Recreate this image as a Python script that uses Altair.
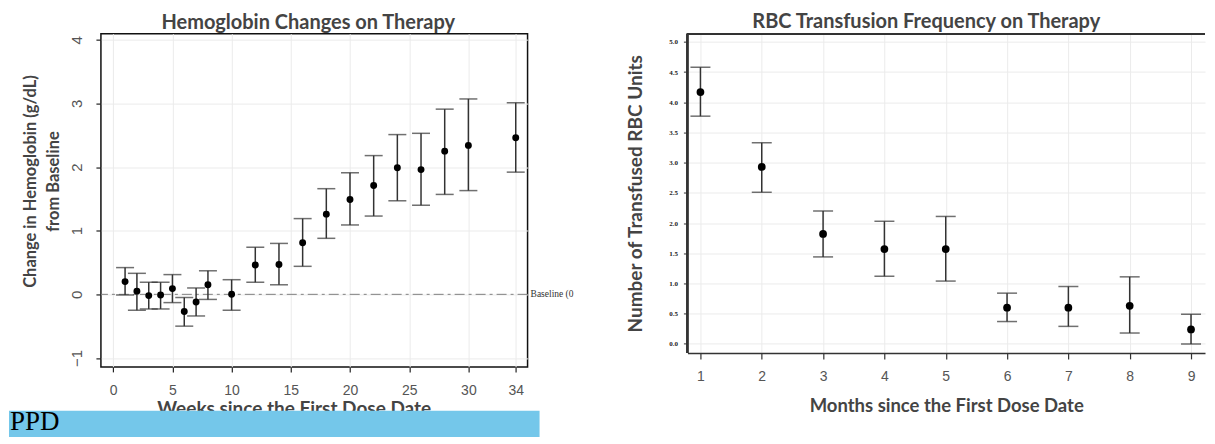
import altair as alt
import pandas as pd

# ---------------- data ----------------
weeks = [1, 2, 3, 4, 5, 6, 7, 8, 10, 12, 14, 16, 18, 20, 22, 24, 26, 28, 30, 34]
hgb_mean = [0.20, 0.05, -0.02, -0.01, 0.09, -0.27, -0.12, 0.15, 0.00, 0.46, 0.47, 0.81, 1.26, 1.49, 1.71, 1.99, 1.96, 2.25, 2.34, 2.46]
hgb_low = [-0.01, -0.25, -0.23, -0.23, -0.13, -0.50, -0.34, -0.08, -0.25, 0.19, 0.15, 0.44, 0.88, 1.09, 1.23, 1.47, 1.40, 1.57, 1.63, 1.92]
hgb_high = [0.42, 0.33, 0.19, 0.19, 0.31, -0.05, 0.10, 0.37, 0.23, 0.74, 0.80, 1.19, 1.66, 1.91, 2.18, 2.51, 2.53, 2.91, 3.07, 3.01]
week_ticks = [0, 5, 10, 15, 20, 25, 30, 34]
hgb_ticks = [-1, 0, 1, 2, 3, 4]

months = [1, 2, 3, 4, 5, 6, 7, 8, 9]
rbc_mean = [4.17, 2.93, 1.82, 1.57, 1.57, 0.60, 0.60, 0.63, 0.24]
rbc_low = [3.77, 2.51, 1.44, 1.12, 1.04, 0.37, 0.29, 0.18, 0.00]
rbc_high = [4.58, 3.33, 2.20, 2.03, 2.11, 0.84, 0.95, 1.11, 0.49]
month_ticks = [1, 2, 3, 4, 5, 6, 7, 8, 9]
rbc_ticks = [0.0, 0.5, 1.0, 1.5, 2.0, 2.5, 3.0, 3.5, 4.0, 4.5, 5.0]

baseline_value = [0]
baseline_label = ["Baseline (0"]
banner_label = ["PPD"]

left_df = pd.DataFrame({"week": weeks, "mean": hgb_mean, "low": hgb_low, "high": hgb_high})
right_df = pd.DataFrame({"month": months, "mean": rbc_mean, "low": rbc_low, "high": rbc_high})
base_df = pd.DataFrame({"v": baseline_value, "label": baseline_label})
banner_df = pd.DataFrame({"label": banner_label})

TITLE_FONT = "Lato"
TICK_FONT = "Liberation Sans"
GRID = "#ebebeb"
TXT = "#444444"
BAR = "#333333"

LW, LH = 427, 333.5
RW, RH = 518, 319.5

# ---------------- left panel ----------------
xs_l = alt.Scale(domain=[-1.04, 35.0], nice=False, zero=False)
ys_l = alt.Scale(domain=[-1.14, 4.096], nice=False, zero=False)
xax_l = alt.Axis(values=week_ticks, domain=False, grid=True, gridColor=GRID,
                 tickSize=5, tickColor="#222222", tickWidth=1.2,
                 labelFont=TICK_FONT, labelFontSize=14, labelColor="#555555", labelPadding=12,
                 title="Weeks since the First Dose Date", titleFont=TITLE_FONT, titleFontSize=19,
                 titleFontWeight="bold", titleColor=TXT, titleX=193, titleY=33, titleBaseline="top")
yax_l = alt.Axis(values=hgb_ticks, domain=False, grid=True, gridColor=GRID,
                 tickSize=5, tickColor="#222222", tickWidth=1.2,
                 labelFont=TICK_FONT, labelFontSize=15, labelColor="#555555", labelPadding=11.5,
                 labelAngle=270, labelAlign="center", labelBaseline="bottom",
                 title=["Change in Hemoglobin (g/dL)", "from Baseline"], titleFont=TITLE_FONT,
                 titleFontSize=16.5, titleFontWeight="bold", titleColor=TXT, titleLineHeight=23,
                 titleAngle=270, titleAlign="center", titleBaseline="bottom", titleX=-62.5, titleY=147.5)


def lx():
    return alt.X("week:Q", scale=xs_l, axis=xax_l)


def ly(field):
    return alt.Y(f"{field}:Q", scale=ys_l, axis=yax_l)


base_rule = alt.Chart(base_df).mark_rule(color="#808080", strokeWidth=1, strokeDash=[10, 4, 3, 4]).encode(
    y=ly("v"))
err_l = alt.Chart(left_df).mark_rule(color=BAR, strokeWidth=1.5).encode(x=lx(), y=ly("low"), y2="high:Q")
cap_lo_l = alt.Chart(left_df).mark_tick(orient="horizontal", size=18, thickness=1.5, color=BAR).encode(x=lx(), y=ly("low"))
cap_hi_l = alt.Chart(left_df).mark_tick(orient="horizontal", size=18, thickness=1.5, color=BAR).encode(x=lx(), y=ly("high"))
pts_l = alt.Chart(left_df).mark_circle(size=48, color="black", opacity=1).encode(x=lx(), y=ly("mean"))
base_txt = alt.Chart(base_df).mark_text(align="left", baseline="middle", font="Liberation Serif",
                                        fontSize=9.5, color="#333333").encode(
    x=alt.value(LW + 3), y=ly("v"), text="label:N")
banner = alt.Chart(banner_df).mark_rect(color="#74C7EA").encode(
    x=alt.value(-92), x2=alt.value(439), y=alt.value(377.5), y2=alt.value(406.5))
banner_txt = alt.Chart(banner_df).mark_text(align="left", baseline="alphabetic", font="Liberation Serif",
                                            fontSize=27, color="black").encode(
    x=alt.value(-91), y=alt.value(396.5), text="label:N")

left = alt.layer(base_rule, err_l, cap_lo_l, cap_hi_l, pts_l, base_txt, banner, banner_txt).properties(
    width=LW, height=LH,
    title=alt.TitleParams("Hemoglobin Changes on Therapy", font=TITLE_FONT, fontSize=20, fontWeight="bold",
                          color=TXT, offset=1, dx=-6),
    view=alt.ViewBackground(stroke="#111111", strokeWidth=1.5),
)

# ---------------- right panel ----------------
xs_r = alt.Scale(domain=[0.788, 9.228], nice=False, zero=False)
ys_r = alt.Scale(domain=[-0.149, 5.136], nice=False, zero=False)
xax_r = alt.Axis(values=month_ticks, domain=True, domainColor=BAR, domainWidth=1.5, grid=True, gridColor=GRID,
                 tickSize=6, tickColor=BAR, tickWidth=1.2,
                 labelFont=TICK_FONT, labelFontSize=14, labelColor="#555555", labelPadding=11,
                 title="Months since the First Dose Date", titleFont=TITLE_FONT, titleFontSize=18.5,
                 titleFontWeight="bold", titleColor=TXT, titlePadding=12.5)
yax_r = alt.Axis(values=rbc_ticks, format=".1f", domain=False, grid=True,
                 gridColor=GRID, tickSize=4, tickColor=BAR, tickWidth=1,
                 labelFont="Liberation Serif", labelFontSize=7, labelFontWeight="bold",
                 labelColor="#222222", labelPadding=6,
                 title="Number of Transfused RBC Units", titleFont=TITLE_FONT, titleFontSize=19,
                 titleFontWeight="bold", titleColor=TXT, titlePadding=23)


def rx():
    return alt.X("month:Q", scale=xs_r, axis=xax_r)


def ry(field):
    return alt.Y(f"{field}:Q", scale=ys_r, axis=yax_r)


top_line = alt.Chart(right_df).mark_rule(color=BAR, strokeWidth=1.5).encode(y=alt.value(0))
left_line = alt.Chart(right_df).mark_rule(color=BAR, strokeWidth=1.5).encode(
    x=alt.value(0), y=alt.value(0), y2=alt.value(RH))
err_r = alt.Chart(right_df).mark_rule(color=BAR, strokeWidth=1.5).encode(x=rx(), y=ry("low"), y2="high:Q")
cap_lo_r = alt.Chart(right_df).mark_tick(orient="horizontal", size=20, thickness=1.5, color=BAR).encode(x=rx(), y=ry("low"))
cap_hi_r = alt.Chart(right_df).mark_tick(orient="horizontal", size=20, thickness=1.5, color=BAR).encode(x=rx(), y=ry("high"))
pts_r = alt.Chart(right_df).mark_circle(size=60, color="black", opacity=1).encode(x=rx(), y=ry("mean"))

right = alt.layer(top_line, left_line, err_r, cap_lo_r, cap_hi_r, pts_r).properties(
    width=RW, height=RH,
    title=alt.TitleParams("RBC Transfusion Frequency on Therapy", font=TITLE_FONT, fontSize=20,
                          fontWeight="bold", color=TXT, offset=1, dx=-20),
    view=alt.ViewBackground(stroke="transparent"),
)

chart = alt.hconcat(left, right, spacing=51).properties(
    padding={"left": 0, "top": 2.5, "right": 0, "bottom": -4.5}
).configure_view(stroke="transparent")

chart.save("out.html", embed_options={"renderer": "svg", "actions": False})
